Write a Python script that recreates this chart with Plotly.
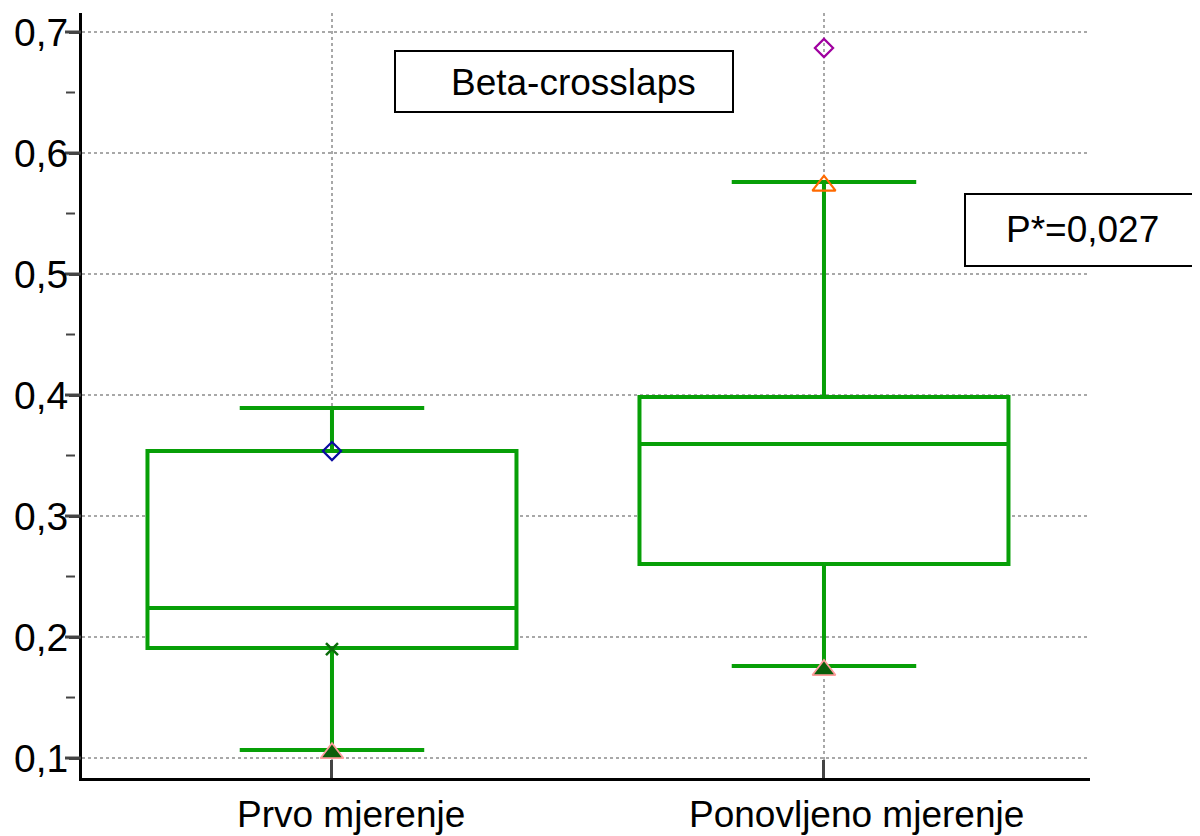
import plotly.graph_objects as go

categories = ["Prvo mjerenje", "Ponovljeno mjerenje"]
q1 = [0.1909, 0.2603]
median = [0.224, 0.3595]
q3 = [0.3537, 0.3983]
lowerfence = [0.1066, 0.176]
upperfence = [0.3893, 0.576]

# individual markers: (category, value)
blue_diamond = ([categories[0]], [0.3537])
green_x = ([categories[0]], [0.190])
filled_tri = ([categories[0], categories[1]], [0.104, 0.1727])
orange_tri = ([categories[1]], [0.573])
purple_diamond = ([categories[1]], [0.6868])

ytick_vals = [0.1, 0.2, 0.3, 0.4, 0.5, 0.6, 0.7]
ytick_text = ["0,1", "0,2", "0,3", "0,4", "0,5", "0,6", "0,7"]
minor_ticks = [0.15, 0.25, 0.35, 0.45, 0.55, 0.65]
xlabel_shift = [19, 33]  # px, label offset to the right of its category

title_text = "Beta-crosslaps"
p_text = "P*=0,027"

GREEN = "#079f07"
FONT = "Arial, Liberation Sans, sans-serif"

fig = go.Figure()
fig.add_trace(go.Box(
    x=categories, q1=q1, median=median, q3=q3,
    lowerfence=lowerfence, upperfence=upperfence,
    width=0.75, whiskerwidth=0.5, boxpoints=False,
    fillcolor="white", line=dict(color=GREEN, width=4),
    showlegend=False, hoverinfo="skip",
))

def add_marker(data, symbol, color, size, line_color=None, line_width=2):
    fig.add_trace(go.Scatter(
        x=data[0], y=data[1], mode="markers", cliponaxis=False,
        marker=dict(symbol=symbol, size=size, color=color,
                    line=dict(color=line_color or color, width=line_width)),
        showlegend=False, hoverinfo="skip",
    ))

add_marker(blue_diamond, "diamond-open", "#0a0aa0", 14, line_width=2.2)
add_marker(green_x, "x-thin-open", "#0b6b0b", 12, line_width=2.5)
add_marker(filled_tri, "triangle-up", "#0b5e0b", 20, line_color="#ff9c9c", line_width=1.8)
add_marker(orange_tri, "triangle-up-open", "#ff6a00", 20, line_width=2.2)
add_marker(purple_diamond, "diamond-open", "#a000a0", 14, line_width=2.2)

# page offset (body margin) compensation
OFF = 8
W, H = 1200, 836
L = 82 - OFF
T = 13 - OFF
R = W - (1090 - OFF)
B = H - (778 - OFF)
pw, ph = W - L - R, H - T - B

def px_x(p):
    return (p - OFF - L) / pw

def px_y(p):
    return (H - B - (p - OFF)) / ph

shapes = []
for v in minor_ticks:
    shapes.append(dict(type="line", xref="paper", yref="y",
                       x0=px_x(66), x1=px_x(75), y0=v, y1=v,
                       line=dict(color="#444", width=2)))
for v in ytick_vals:
    shapes.append(dict(type="line", xref="paper", yref="y",
                       x0=px_x(65), x1=px_x(81), y0=v, y1=v,
                       line=dict(color="#444", width=3)))
# legend-like boxes
shapes.append(dict(type="rect", xref="paper", yref="paper",
                   x0=px_x(395), x1=px_x(733), y0=px_y(112), y1=px_y(51),
                   line=dict(color="black", width=2), fillcolor="white", layer="above"))
shapes.append(dict(type="rect", xref="paper", yref="paper",
                   x0=px_x(965), x1=px_x(1225), y0=px_y(266), y1=px_y(194),
                   line=dict(color="black", width=2), fillcolor="white", layer="above"))

annotations = [
    dict(text=title_text, xref="paper", yref="paper", x=px_x(573), y=px_y(82),
         showarrow=False, font=dict(family=FONT, size=37, color="black"),
         xanchor="center", yanchor="middle"),
    dict(text=p_text, xref="paper", yref="paper", x=px_x(1082), y=px_y(229),
         showarrow=False, font=dict(family=FONT, size=37, color="black"),
         xanchor="center", yanchor="middle"),
]
# y tick labels
for v, t in zip(ytick_vals, ytick_text):
    annotations.append(dict(text=t, xref="paper", yref="y", x=px_x(70), y=v,
                            showarrow=False, xanchor="right", yanchor="middle",
                            font=dict(family=FONT, size=39, color="black")))
# x tick labels
for c, s in zip(categories, xlabel_shift):
    annotations.append(dict(text=c, xref="x", yref="paper", x=c, y=px_y(814),
                            xshift=s, showarrow=False, xanchor="center", yanchor="middle",
                            font=dict(family=FONT, size=37, color="black")))

fig.update_layout(
    width=W, height=H,
    margin=dict(l=L, r=R, t=T, b=B, pad=0, autoexpand=False),
    paper_bgcolor="white", plot_bgcolor="white",
    shapes=shapes, annotations=annotations,
    font=dict(family=FONT, color="black"),
)
fig.update_xaxes(
    type="category", range=[-0.5081, 1.5407], automargin=False,
    showline=True, linecolor="black", linewidth=3,
    ticks="inside", ticklen=18, tickwidth=3, tickcolor="#444",
    showticklabels=False,
    showgrid=True, gridcolor="#a8a8a8", gridwidth=1.5, griddash="dot",
    zeroline=False,
)
fig.update_yaxes(
    range=[0.0835, 0.7157], automargin=False,
    tickvals=ytick_vals, showticklabels=False,
    showline=True, linecolor="black", linewidth=3,
    ticks="outside", ticklen=10, tickwidth=3, tickcolor="#444",
    showgrid=True, gridcolor="#a8a8a8", gridwidth=1.5, griddash="dot",
    zeroline=False,
)

fig.write_html("out.html")
